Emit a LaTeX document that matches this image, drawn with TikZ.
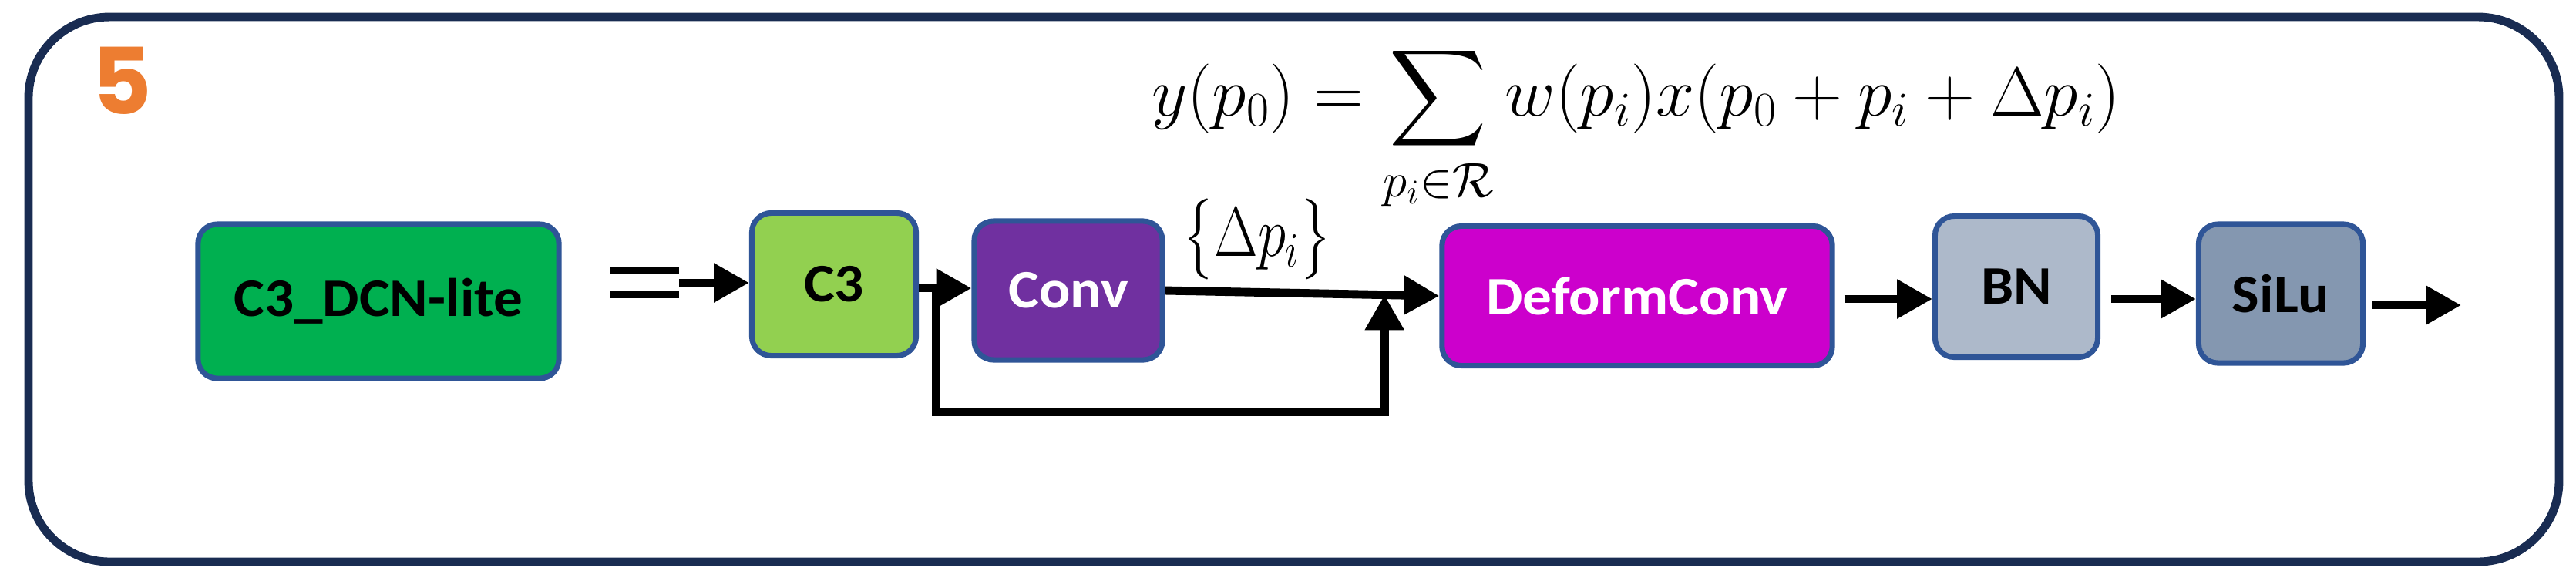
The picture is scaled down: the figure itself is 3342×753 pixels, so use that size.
\RequirePackage{fix-cm}
\documentclass[tikz,border=0pt]{standalone}
\usepackage{amsmath}
\usepackage{graphicx}
\usepackage{fontspec}
\usetikzlibrary{arrows.meta,calc}
\newfontfamily\boxfont{Carlito}[FakeStretch=1.07]
\newfontfamily\numfont{Poppins}
\definecolor{framecol}{RGB}{25,44,82}
\definecolor{bordercol}{RGB}{47,85,151}
\definecolor{dcngreen}{RGB}{0,176,80}
\definecolor{c3green}{RGB}{146,208,80}
\definecolor{convpurple}{RGB}{112,48,160}
\definecolor{deformmag}{RGB}{204,0,204}
\definecolor{bngray}{RGB}{173,185,202}
\definecolor{silugray}{RGB}{132,151,176}
\definecolor{orange5}{RGB}{237,125,49}
\begin{document}
\begin{tikzpicture}[x=0.01cm,y=-0.01cm,
  blk/.style={draw=bordercol, line width=2pt, rounded corners=0.25cm, inner sep=0pt,
    font=\boxfont\bfseries\fontsize{20}{24}\selectfont, align=center},
  arr/.style={line width=3.1pt, -{Triangle[length=13pt,width=13.7pt]}},
  eqbar/.style={line width=2.6pt}]
\useasboundingbox (0,0) rectangle (3342,753);
\draw[line width=3.1pt, framecol, rounded corners=1.05cm] (37,22) rectangle (3320,729);

\node[inner sep=0, text=orange5] (num) at (158,105) {\numfont\bfseries\fontsize{34}{40}\selectfont 5};

\node[inner sep=0, anchor=base west] (formula) at (1494,150)
  {\fontsize{25.6}{30}\selectfont$\displaystyle y(p_0)=\sum_{p_i\in\mathcal{R}}w(p_i)x(p_0+p_i+\Delta p_i)$};

\node[blk, fill=dcngreen, minimum width=4.68cm, minimum height=2.0cm] (dcn) at (491,391) {C3\_DCN-lite};
\node[blk, fill=c3green, minimum width=2.13cm, minimum height=1.85cm] (c3) at (1082,369) {C3};
\node[blk, fill=convpurple, text=white, minimum width=2.44cm, minimum height=1.8cm] (conv) at (1386,377) {Conv};
\node[blk, fill=deformmag, text=white, minimum width=5.06cm, minimum height=1.81cm] (deform) at (2124,384) {DeformConv};
\node[blk, fill=bngray, minimum width=2.11cm, minimum height=1.83cm] (bn) at (2616,372) {BN};
\node[blk, fill=silugray, minimum width=2.13cm, minimum height=1.8cm] (silu) at (2959,381) {SiLu};

\node[inner sep=0] (offs) at (1631,310)
  {\fontsize{26}{30}\selectfont\scalebox{0.8}[1]{$\bigl\{\Delta p_i\bigr\}$}};

% equals sign and arrow into C3
\coordinate (eq) at (881,367);
\draw[eqbar] ($(eq)+(-89,-16)$) -- ++(89,0);
\draw[eqbar] ($(eq)+(-89,15)$) -- ++(89,0);
\draw[arr] (eq) -- (eq -| c3.west);

% C3 -> Conv
\coordinate (c3o) at ($(c3.east)+(0,5)$);
\draw[arr] (c3o) -- (c3o -| conv.west);

% Conv -> DeformConv and skip branch
\coordinate (br) at ($(c3.east)+(22,5)$);
\coordinate (mj) at ($(conv.east)!0.80!(deform.west)$);
\draw[arr] (conv.east) -- (deform.west);
\draw[arr] (br) -- ++(0,161) -| (mj);

% DeformConv -> BN -> SiLu -> out
\coordinate (lvl) at ($(deform.east)+(12,4)$);
\draw[arr] (lvl) -- (lvl -| bn.west);
\draw[arr] ($(bn.east |- lvl)+(14,0)$) -- (silu.west |- lvl);
\coordinate (out) at (3193,396);
\draw[arr] ($(silu.east |- out)+(8,0)$) -- (out);
\end{tikzpicture}
\end{document}
